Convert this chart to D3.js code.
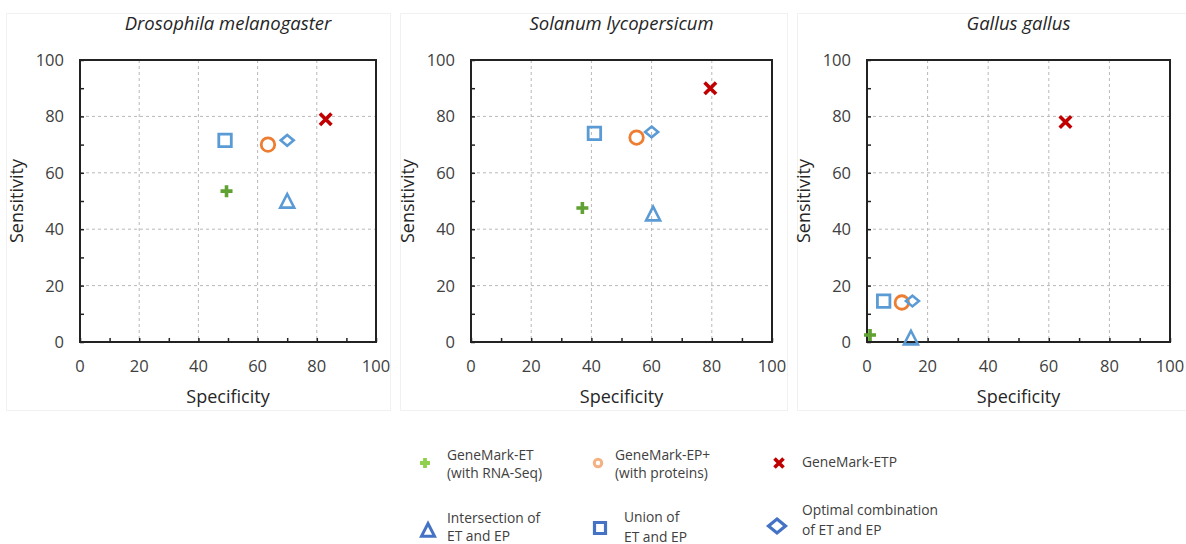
<!DOCTYPE html>
<html><head><meta charset="utf-8">
<script src="https://cdn.jsdelivr.net/npm/d3@7"></script>
<style>
html,body{margin:0;padding:0;background:#fff;}
svg{display:block;font-family:"Open Sans",sans-serif;}
</style></head>
<body><svg id="c" width="1186" height="544"></svg>
<script>
const species = ["Drosophila melanogaster", "Solanum lycopersicum", "Gallus gallus"];
const methods = ["GeneMark-ET", "GeneMark-EP+", "GeneMark-ETP", "Intersection", "Union", "Optimal"];
// specificity / sensitivity per method, one value per species
const specET = [49.5, 37, 1];      const sensET = [53.5, 47.5, 2.5];
const specEP = [63.5, 55, 11.5];   const sensEP = [70, 72.5, 14];
const specETP = [83, 79.5, 65.5];  const sensETP = [79, 90, 78];
const specInt = [70, 60.5, 14.5];  const sensInt = [50, 45.5, 1.5];
const specUni = [49, 41, 5.5];     const sensUni = [71.5, 74, 14.5];
const specOpt = [70, 60, 15];      const sensOpt = [71.5, 74.5, 14.5];
const tickValues = [0, 20, 40, 60, 80, 100];
const minorTicks = [10, 30, 50, 70, 90];
const legendLines = [
  ["GeneMark-ET", "(with RNA-Seq)"],
  ["GeneMark-EP+", "(with proteins)"],
  ["GeneMark-ETP"],
  ["Intersection of", "ET and EP"],
  ["Union of", "ET and EP"],
  ["Optimal combination", "of ET and EP"]
];

const series = [
  {spec: specET, sens: sensET, shape: "plus", color: "#5fa132", lcolor: "#8fd04e"},
  {spec: specEP, sens: sensEP, shape: "circle", color: "#ed7d31", lcolor: "#f4b183"},
  {spec: specETP, sens: sensETP, shape: "x", color: "#c00000", lcolor: "#c00000"},
  {spec: specInt, sens: sensInt, shape: "triangle", color: "#5b9bd5", lcolor: "#4472c4"},
  {spec: specUni, sens: sensUni, shape: "square", color: "#5b9bd5", lcolor: "#4472c4"},
  {spec: specOpt, sens: sensOpt, shape: "diamond", color: "#5b9bd5", lcolor: "#4472c4"}
];

const svg = d3.select("#c");
const frames = [[6, 390], [400, 787], [797, 1190]];
const plots = [[80, 376], [471, 772], [867, 1170]];
const yTop = 60, yBot = 342;

function markerPath(shape, s) {
  const p = d3.path();
  const h = s / 2;
  if (shape === "plus") {
    p.moveTo(-h, 0); p.lineTo(h, 0); p.moveTo(0, -h); p.lineTo(0, h);
  } else if (shape === "x") {
    p.moveTo(-h, -h); p.lineTo(h, h); p.moveTo(-h, h); p.lineTo(h, -h);
  } else if (shape === "circle") {
    p.arc(0, 0, h, 0, 2 * Math.PI);
  } else if (shape === "square") {
    p.rect(-h, -h, s, s);
  } else if (shape === "triangle") {
    p.moveTo(0, -h); p.lineTo(h, h * 0.95); p.lineTo(-h, h * 0.95); p.closePath();
  } else if (shape === "diamond") {
    p.moveTo(0, -h * 0.82); p.lineTo(h, 0); p.lineTo(0, h * 0.82); p.lineTo(-h, 0); p.closePath();
  }
  return p.toString();
}
const plotStyle = {
  plus: {size: 12, sw: 3.6}, x: {size: 11.5, sw: 3.6}, circle: {size: 13.5, sw: 2.8},
  square: {size: 12.5, sw: 2.8}, triangle: {size: 14, sw: 2.6}, diamond: {size: 13, sw: 2.6}
};

species.forEach((sp, i) => {
  const [fx0, fx1] = frames[i];
  svg.append("rect").attr("x", fx0 + 0.5).attr("y", 13.5).attr("width", fx1 - fx0).attr("height", 397)
    .attr("fill", "#fff").attr("stroke", "#f1f1f1").attr("stroke-width", 1);

  const [px0, px1] = plots[i];
  const x = d3.scaleLinear().domain([0, 100]).range([px0, px1]);
  const y = d3.scaleLinear().domain([0, 100]).range([yBot, yTop]);
  const g = svg.append("g");

  // grid
  g.selectAll(".gx").data(tickValues.slice(1, -1)).join("line")
    .attr("x1", d => x(d)).attr("x2", d => x(d)).attr("y1", yTop).attr("y2", yBot)
    .attr("stroke", "#b8b8b8").attr("stroke-width", 1).attr("stroke-dasharray", "3,3");
  g.selectAll(".gy").data(tickValues.slice(1, -1)).join("line")
    .attr("y1", d => y(d)).attr("y2", d => y(d)).attr("x1", px0).attr("x2", px1)
    .attr("stroke", "#b8b8b8").attr("stroke-width", 1).attr("stroke-dasharray", "3,3");

  // axes (inner ticks)
  const xAxis = d3.axisBottom(x).tickValues(tickValues.concat(minorTicks)).tickSize(-4).tickFormat("");
  const yAxis = d3.axisLeft(y).tickValues(tickValues.concat(minorTicks)).tickSize(-4).tickFormat("");
  const ax = g.append("g").attr("transform", `translate(0,${yBot})`).call(xAxis);
  const ay = g.append("g").attr("transform", `translate(${px0},0)`).call(yAxis);
  [ax, ay].forEach(a => {
    a.select(".domain").remove();
    a.selectAll(".tick line").attr("stroke", "#222").attr("stroke-width", 1.5);
  });
  // tick labels
  g.selectAll(".xl").data(tickValues).join("text")
    .attr("x", d => x(d)).attr("y", yBot + 30).attr("text-anchor", "middle")
    .attr("font-size", 16.5).attr("fill", "#404040").text(d => d);
  g.selectAll(".yl").data(tickValues).join("text")
    .attr("x", px0 - 16).attr("y", d => y(d) + 6).attr("text-anchor", "end")
    .attr("font-size", 16.5).attr("fill", "#404040").text(d => d);

  // frame
  g.append("rect").attr("x", px0).attr("y", yTop).attr("width", px1 - px0).attr("height", yBot - yTop)
    .attr("fill", "none").attr("stroke", "#222").attr("stroke-width", 2);

  // titles
  g.append("text").attr("x", (px0 + px1) / 2).attr("y", 29.5).attr("text-anchor", "middle")
    .attr("font-size", 18.5).attr("font-style", "italic").attr("fill", "#262626").text(sp);
  g.append("text").attr("x", (px0 + px1) / 2).attr("y", 402.5).attr("text-anchor", "middle")
    .attr("font-size", 18).attr("fill", "#262626").text("Specificity");
  g.append("text").attr("transform", `translate(${px0 - 57},${(yTop + yBot) / 2}) rotate(-90)`)
    .attr("text-anchor", "middle").attr("font-size", 18).attr("fill", "#262626").text("Sensitivity");

  // points
  series.forEach(s => {
    const st = plotStyle[s.shape];
    g.append("path")
      .attr("d", markerPath(s.shape, st.size))
      .attr("transform", `translate(${x(s.spec[i])},${y(s.sens[i])})`)
      .attr("fill", "none").attr("stroke", s.color).attr("stroke-width", st.sw)
      .attr("stroke-linejoin", "miter");
  });
});

// legend
const legPos = [
  {mx: 425, my: 463, tx: 447, ty: [460, 477.5], size: 10, sw: 3.8},
  {mx: 598, my: 463, tx: 615, ty: [460, 477.5], size: 7.5, sw: 3},
  {mx: 779, my: 463, tx: 802, ty: [467], size: 9, sw: 3.6},
  {mx: 428, my: 530, tx: 447, ty: [523, 541], size: 13, sw: 3},
  {mx: 600, my: 528, tx: 624, ty: [521.5, 541.5], size: 11, sw: 3.2},
  {mx: 777, my: 526, tx: 802, ty: [515, 534.5], size: 17, sw: 3.2}
];
const lg = svg.append("g");
series.forEach((s, k) => {
  const p = legPos[k];
  lg.append("path").attr("d", markerPath(s.shape, p.size))
    .attr("transform", `translate(${p.mx},${p.my})`)
    .attr("fill", "none").attr("stroke", s.lcolor).attr("stroke-width", p.sw);
  legendLines[k].forEach((t, j) => {
    lg.append("text").attr("x", p.tx).attr("y", p.ty[j]).attr("font-size", 13.8)
      .attr("fill", "#404040").text(t);
  });
});
</script></body></html>
